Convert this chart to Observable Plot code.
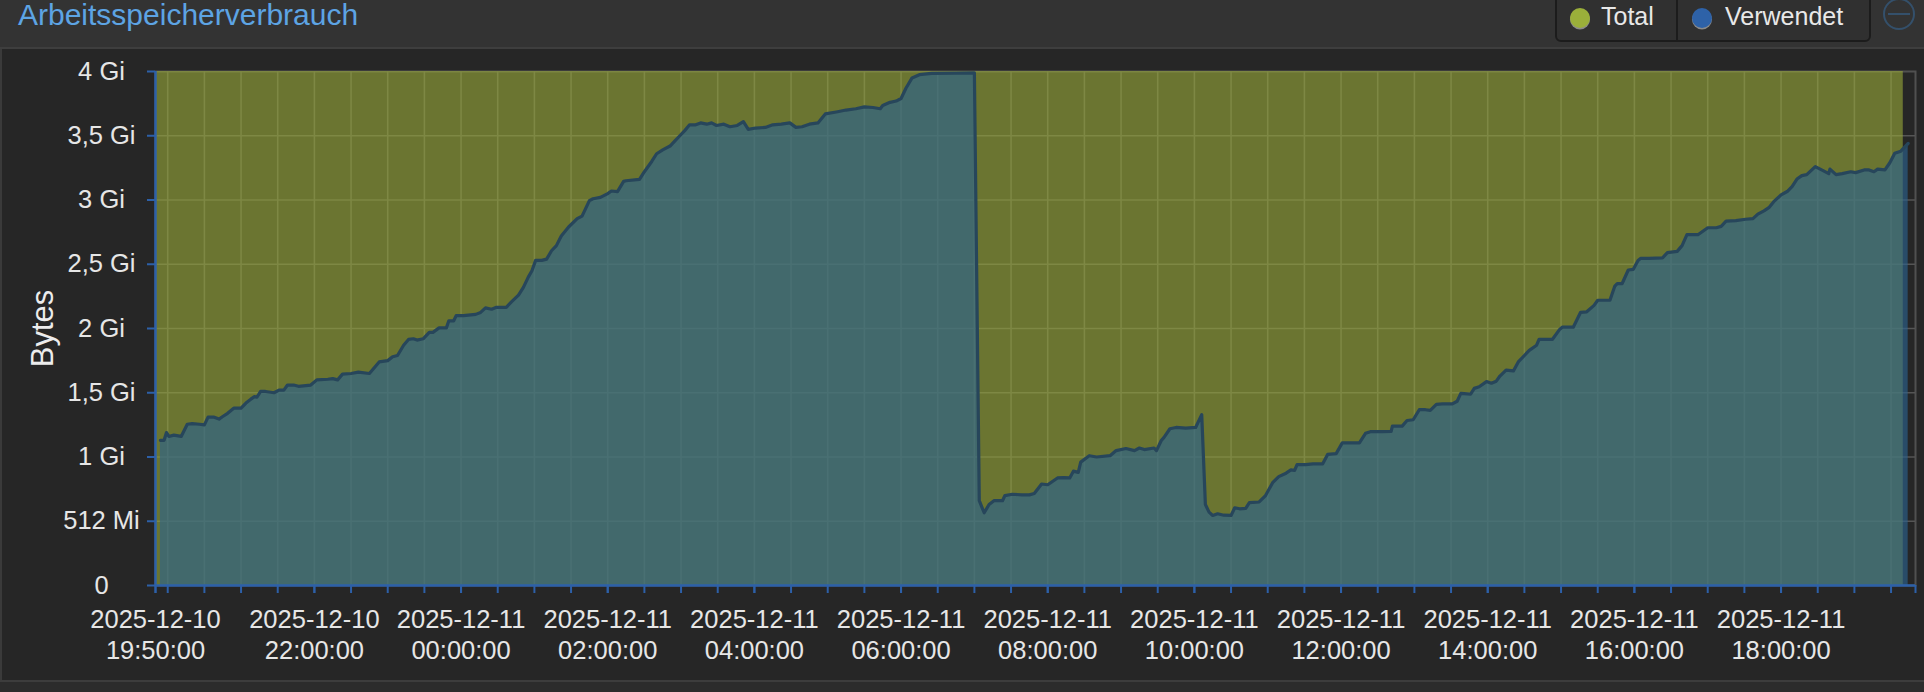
<!DOCTYPE html>
<html>
<head>
<meta charset="utf-8">
<script src="https://cdn.jsdelivr.net/npm/d3@7"></script>
<script src="https://cdn.jsdelivr.net/npm/@observablehq/plot@0.6"></script>
<style>
  html, body { margin: 0; padding: 0; width: 1924px; height: 692px; overflow: hidden; background: #2c2c2c; font-family: "Liberation Sans", Arial, sans-serif; }
  #header { position: absolute; left: 0; top: 0; width: 1924px; height: 47px; background: #333333; border-bottom: 2px solid #3e3e3e; }
  #title { position: absolute; left: 18px; top: -3px; font-size: 30px; line-height: 36px; color: #5da4e4; white-space: nowrap; }
  #legend { position: absolute; left: 1555px; top: -8px; width: 312px; height: 46px; border: 2px solid #1c1c1c; border-radius: 6px; background: #303030; }
  #legdiv { position: absolute; left: 1676px; top: 0px; width: 2px; height: 40px; background: #1c1c1c; }
  .dot { position: absolute; width: 20px; height: 20px; border-radius: 50%; box-shadow: 0 1.5px 0 #8a8a8a; }
  .legtxt { position: absolute; top: 1px; font-size: 25px; line-height: 30px; color: #e8e8e8; white-space: nowrap; }
  #panel { position: absolute; left: 0; top: 49px; width: 1924px; height: 631px; background: #262626; border-bottom: 2px solid #3d3d3d; }
  #panelLeft { position: absolute; left: 0; top: 49px; width: 2px; height: 631px; background: #3a3a3a; }
  #chart { position: absolute; left: 0; top: 49px; }
  #icon { position: absolute; left: 0; top: 0; }
</style>
</head>
<body>
<div id="header"><div id="title">Arbeitsspeicherverbrauch</div></div>
<div id="legend"></div>
<div id="legdiv"></div>
<div class="dot" style="left:1570px; top:8px; background:#9aaf3a;"></div>
<div class="legtxt" style="left:1601px;">Total</div>
<div class="dot" style="left:1692px; top:8px; background:#2e62a8;"></div>
<div class="legtxt" style="left:1725px;">Verwendet</div>
<svg id="icon" width="1924" height="49"><circle cx="1899" cy="14" r="15" fill="none" stroke="#34506b" stroke-width="2"/><line x1="1888" x2="1910" y1="14" y2="14" stroke="#34506b" stroke-width="2"/></svg>
<div id="panel"></div>
<div id="panelLeft"></div>
<div id="chart"></div>
<script>
// ---- data (values in GiB) ----
const usedTimes = [
  "12-10 19:54","12-10 19:57","12-10 19:59","12-10 20:01","12-10 20:05","12-10 20:11","12-10 20:16","12-10 20:20","12-10 20:26","12-10 20:30",
  "12-10 20:33","12-10 20:38","12-10 20:42","12-10 20:45","12-10 20:49","12-10 20:54","12-10 21:00","12-10 21:04","12-10 21:08","12-10 21:11",
  "12-10 21:13","12-10 21:16","12-10 21:20","12-10 21:27","12-10 21:31","12-10 21:35","12-10 21:38","12-10 21:43","12-10 21:47","12-10 21:57",
  "12-10 22:02","12-10 22:11","12-10 22:15","12-10 22:19","12-10 22:23","12-10 22:30","12-10 22:36","12-10 22:45","12-10 22:53","12-10 23:00",
  "12-10 23:04","12-10 23:08","12-10 23:13","12-10 23:17","12-10 23:21","12-10 23:24","12-10 23:29","12-10 23:34","12-10 23:37","12-10 23:42",
  "12-10 23:48","12-10 23:50","12-10 23:54","12-10 23:56","12-11 00:02","12-11 00:12","12-11 00:16","12-11 00:20","12-11 00:25","12-11 00:29",
  "12-11 00:37","12-11 00:41","12-11 00:47","12-11 00:51","12-11 00:55","12-11 00:58","12-11 01:01","12-11 01:06","12-11 01:10","12-11 01:14",
  "12-11 01:18","12-11 01:22","12-11 01:28","12-11 01:35","12-11 01:39","12-11 01:45","12-11 01:48","12-11 01:54","12-11 02:00","12-11 02:03",
  "12-11 02:08","12-11 02:13","12-11 02:15","12-11 02:26","12-11 02:30","12-11 02:36","12-11 02:40","12-11 02:45","12-11 02:51","12-11 02:55",
  "12-11 02:59","12-11 03:03","12-11 03:07","12-11 03:12","12-11 03:16","12-11 03:21","12-11 03:25","12-11 03:29","12-11 03:35","12-11 03:40",
  "12-11 03:46","12-11 03:51","12-11 03:55","12-11 04:01","12-11 04:09","12-11 04:15","12-11 04:22","12-11 04:29","12-11 04:34","12-11 04:39",
  "12-11 04:45","12-11 04:52","12-11 04:58","12-11 05:07","12-11 05:15","12-11 05:23","12-11 05:30","12-11 05:37","12-11 05:43","12-11 05:45",
  "12-11 05:51","12-11 05:56","12-11 06:00","12-11 06:04","12-11 06:09","12-11 06:15","12-11 06:25","12-11 06:45","12-11 07:00","12-11 07:04",
  "12-11 07:08","12-11 07:12","12-11 07:16","12-11 07:23","12-11 07:25","12-11 07:31","12-11 07:39","12-11 07:45","12-11 07:49","12-11 07:55",
  "12-11 08:00","12-11 08:08","12-11 08:13","12-11 08:18","12-11 08:21","12-11 08:25","12-11 08:27","12-11 08:34","12-11 08:40","12-11 08:51",
  "12-11 08:56","12-11 09:04","12-11 09:11","12-11 09:15","12-11 09:19","12-11 09:27","12-11 09:29","12-11 09:33","12-11 09:35","12-11 09:40",
  "12-11 09:45","12-11 09:53","12-11 10:01","12-11 10:06","12-11 10:09","12-11 10:12","12-11 10:15","12-11 10:19","12-11 10:24","12-11 10:30",
  "12-11 10:33","12-11 10:37","12-11 10:42","12-11 10:45","12-11 10:53","12-11 10:58","12-11 11:04","12-11 11:09","12-11 11:15","12-11 11:19",
  "12-11 11:22","12-11 11:24","12-11 11:31","12-11 11:37","12-11 11:45","12-11 11:49","12-11 11:56","12-11 12:01","12-11 12:08","12-11 12:15",
  "12-11 12:20","12-11 12:24","12-11 12:34","12-11 12:41","12-11 12:42","12-11 12:50","12-11 12:54","12-11 12:59","12-11 13:04","12-11 13:09",
  "12-11 13:13","12-11 13:18","12-11 13:23","12-11 13:31","12-11 13:35","12-11 13:38","12-11 13:46","12-11 13:49","12-11 13:53","12-11 13:59",
  "12-11 14:03","12-11 14:07","12-11 14:10","12-11 14:15","12-11 14:21","12-11 14:25","12-11 14:30","12-11 14:34","12-11 14:40","12-11 14:42",
  "12-11 14:53","12-11 14:59","12-11 15:01","12-11 15:10","12-11 15:16","12-11 15:21","12-11 15:27","12-11 15:30","12-11 15:40","12-11 15:44",
  "12-11 15:46","12-11 15:50","12-11 15:55","12-11 15:59","12-11 16:03","12-11 16:05","12-11 16:12","12-11 16:23","12-11 16:27","12-11 16:35",
  "12-11 16:39","12-11 16:43","12-11 16:52","12-11 17:00","12-11 17:07","12-11 17:11","12-11 17:15","12-11 17:23","12-11 17:31","12-11 17:37",
  "12-11 17:41","12-11 17:46","12-11 17:50","12-11 17:54","12-11 18:00","12-11 18:05","12-11 18:09","12-11 18:13","12-11 18:17","12-11 18:21",
  "12-11 18:28","12-11 18:34","12-11 18:39","12-11 18:40","12-11 18:45","12-11 18:50","12-11 18:57","12-11 19:01","12-11 19:08","12-11 19:12",
  "12-11 19:16","12-11 19:19","12-11 19:25","12-11 19:29","12-11 19:33","12-11 19:38","12-11 19:44"
];
const usedGi = [
  1.13,1.13,1.19,1.16,1.17,1.16,1.255,1.26,1.255,1.25,
  1.31,1.31,1.295,1.315,1.34,1.38,1.38,1.42,1.45,1.47,
  1.465,1.51,1.51,1.50,1.52,1.52,1.56,1.56,1.55,1.56,
  1.60,1.605,1.61,1.60,1.645,1.65,1.66,1.65,1.74,1.75,
  1.78,1.79,1.87,1.915,1.92,1.91,1.92,1.97,1.97,2.005,
  2.005,2.06,2.06,2.10,2.10,2.11,2.125,2.16,2.15,2.165,
  2.165,2.205,2.26,2.32,2.40,2.45,2.53,2.53,2.54,2.605,
  2.645,2.72,2.79,2.855,2.875,2.995,3.01,3.02,3.05,3.07,
  3.065,3.145,3.15,3.16,3.22,3.30,3.36,3.39,3.42,3.46,
  3.50,3.54,3.585,3.585,3.60,3.59,3.60,3.58,3.59,3.57,
  3.58,3.61,3.55,3.56,3.565,3.585,3.59,3.60,3.565,3.57,
  3.59,3.60,3.67,3.685,3.70,3.71,3.725,3.72,3.71,3.735,
  3.76,3.77,3.79,3.87,3.95,3.975,3.985,3.987,3.99,0.66,
  0.566,0.63,0.66,0.66,0.70,0.71,0.705,0.705,0.716,0.79,
  0.784,0.837,0.84,0.837,0.89,0.88,0.96,1.01,1.00,1.01,
  1.05,1.066,1.05,1.07,1.058,1.07,1.05,1.13,1.15,1.22,
  1.23,1.224,1.23,1.33,0.63,0.571,0.545,0.558,0.547,0.545,
  0.605,0.597,0.60,0.645,0.65,0.697,0.80,0.847,0.874,0.90,
  0.895,0.94,0.94,0.947,0.947,1.02,1.026,1.11,1.11,1.11,
  1.184,1.197,1.197,1.20,1.24,1.24,1.284,1.29,1.368,1.368,
  1.363,1.41,1.413,1.413,1.434,1.495,1.49,1.534,1.547,1.587,
  1.574,1.59,1.63,1.676,1.67,1.74,1.79,1.83,1.87,1.916,
  1.916,1.995,2.01,2.01,2.126,2.13,2.18,2.22,2.22,2.33,
  2.35,2.35,2.455,2.46,2.53,2.545,2.545,2.55,2.59,2.60,
  2.645,2.73,2.73,2.784,2.784,2.795,2.836,2.84,2.85,2.855,
  2.89,2.916,2.94,2.987,3.04,3.066,3.105,3.163,3.19,3.197,
  3.26,3.23,3.205,3.24,3.197,3.205,3.22,3.213,3.234,3.234,
  3.22,3.24,3.234,3.29,3.363,3.38,3.44
];
const totalTimes = ["12-10 19:50", "12-11 19:40"];
const totalGi = [4, 4];

const yTickValues = [0, 0.5, 1, 1.5, 2, 2.5, 3, 3.5, 4];
const yTickLabels = ["0", "512 Mi", "1 Gi", "1,5 Gi", "2 Gi", "2,5 Gi", "3 Gi", "3,5 Gi", "4 Gi"];
const xLabelTimes = ["12-10 19:50", "12-10 22:00", "12-11 00:00", "12-11 02:00", "12-11 04:00", "12-11 06:00",
                     "12-11 08:00", "12-11 10:00", "12-11 12:00", "12-11 14:00", "12-11 16:00", "12-11 18:00"];
const xDomainTimes = ["12-10 19:50", "12-11 19:50"];

// ---- build ----
const parse = s => new Date("2025-" + s.replace(" ", "T") + ":00Z");
const used = usedTimes.map((t, i) => ({t: parse(t), v: usedGi[i]}));
const total = totalTimes.map((t, i) => ({t: parse(t), v: totalGi[i]}));
const xDomain = xDomainTimes.map(parse);
const labelTicks = xLabelTimes.map(parse);
const halfHours = d3.utcMinute.every(30).range(xDomain[0], xDomain[1]).filter(d => d > xDomain[0]);
const minorTicks = [xDomain[0], ...halfHours, xDomain[1]];
const gridY = yTickValues.filter(v => v > 0 && v < 4);

const fDate = d3.utcFormat("%Y-%m-%d"), fTime = d3.utcFormat("%H:%M:%S");
const axisBlue = "#2d60a8";
const textCol = "#e6e6e6";

const chart = Plot.plot({
  width: 1924,
  height: 631,
  marginLeft: 155,
  marginRight: 9,
  marginTop: 22,
  marginBottom: 95,
  style: {background: "transparent", color: textCol, fontFamily: "'Liberation Sans', Arial, sans-serif", fontSize: "25px"},
  x: {type: "utc", domain: xDomain},
  y: {domain: [0, 4]},
  marks: [
    Plot.frame({stroke: "#505050", strokeWidth: 2}),
    Plot.ruleY(gridY, {stroke: "#555555", strokeWidth: 1.6}),
    Plot.ruleX(halfHours, {stroke: "#555555", strokeWidth: 1.6}),
    Plot.areaY(total, {x: "t", y: "v", fill: "#99aa38", fillOpacity: 0.6}),
    Plot.areaY(used, {x: "t", y: "v", fill: "#2b628f", fillOpacity: 0.63}),
    Plot.lineY(used, {x: "t", y: "v", stroke: "#27465b", strokeWidth: 3.2, strokeLinejoin: "round"}),
    Plot.axisY(yTickValues, {anchor: "left", tickSize: 8, tickPadding: 46, textAnchor: "middle",
      tickFormat: d => yTickLabels[yTickValues.indexOf(d)], stroke: axisBlue, strokeWidth: 2,
      fill: textCol, fontSize: 25.5, label: null}),
    Plot.axisX(minorTicks, {anchor: "bottom", tickSize: 8, stroke: axisBlue, strokeWidth: 2,
      tickFormat: () => "", label: null}),
    Plot.axisX(labelTicks, {anchor: "bottom", tickSize: 8, tickPadding: 13, stroke: axisBlue, strokeWidth: 2,
      tickFormat: d => fDate(d) + "\n" + fTime(d), lineHeight: 1.2, fill: textCol, fontSize: 25.5, label: null}),
    Plot.ruleX([xDomain[0]], {stroke: axisBlue, strokeWidth: 2.5}),
    Plot.ruleY([0], {stroke: axisBlue, strokeWidth: 2.5}),
    Plot.text(["Bytes"], {frameAnchor: "left", dx: -112, rotate: -90, textAnchor: "middle", fontSize: 31, fill: "#ececec"})
  ]
});
document.getElementById("chart").appendChild(chart);
</script>
</body>
</html>
